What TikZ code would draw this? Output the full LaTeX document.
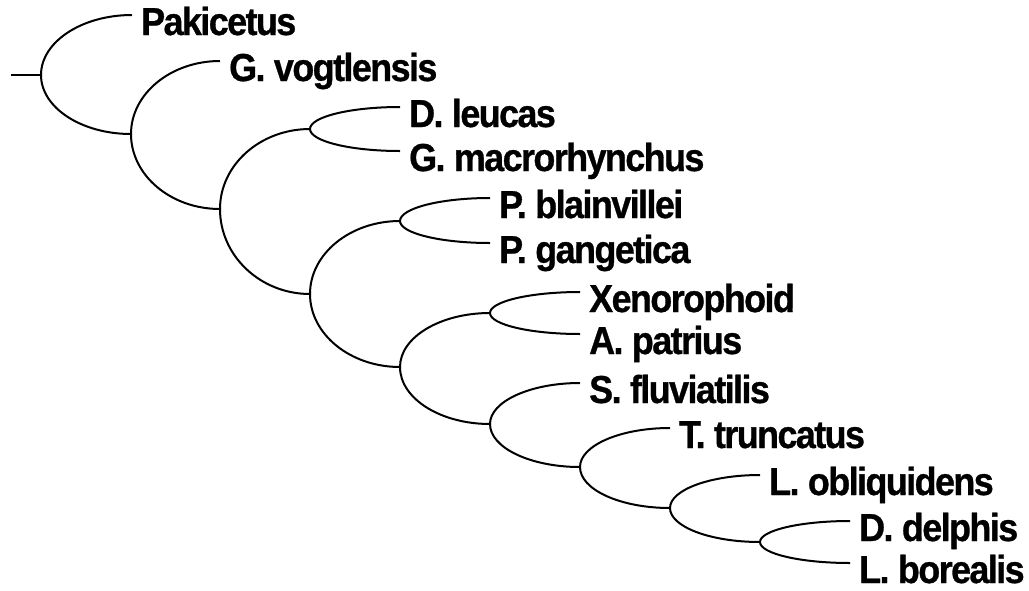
\documentclass[tikz,border=0pt]{standalone}
\usepackage{fontspec}
\setmainfont{Liberation Sans}[FakeStretch=0.92, LetterSpace=-4, BoldFeatures={FakeBold=0.8}]
\usetikzlibrary{calc}
\tikzset{
  branch/.style={to path={.. controls ($(\tikztostart)!0.552!(\tikztostart|-\tikztotarget)$) and ($(\tikztotarget)!0.552!(\tikztostart|-\tikztotarget)$) .. (\tikztotarget)}},
  tree/.style={line width=2pt, black},
  taxon/.style={anchor=base west, inner sep=0pt, font=\fontsize{39}{42}\selectfont\bfseries}
}
\begin{document}
\begin{tikzpicture}[x=1pt,y=-1pt]
\useasboundingbox (0,0) rectangle (1029,590);
% internal nodes
\coordinate (r0) at (11,75);
\coordinate (n1) at (41,75);
\coordinate (n2) at (131,134);
\coordinate (n3) at (220,209);
\coordinate (n4) at (310,129);
\coordinate (n5) at (310,294);
\coordinate (n6) at (400,221);
\coordinate (n7) at (400,367);
\coordinate (n8) at (490,313);
\coordinate (n9) at (490,424);
\coordinate (n10) at (580,467);
\coordinate (n11) at (670,508);
\coordinate (n12) at (760,542);
% leaf ends
\coordinate (pak) at (132,15);
\coordinate (vog) at (220,61);
\coordinate (leu) at (400,107);
\coordinate (mac) at (400,151);
\coordinate (bla) at (490,198);
\coordinate (gan) at (490,243);
\coordinate (xen) at (580,292);
\coordinate (pat) at (580,334);
\coordinate (flu) at (580,383);
\coordinate (tru) at (670,428);
\coordinate (obl) at (760,475);
\coordinate (del) at (850,521);
\coordinate (bor) at (850,563);
% labels
\foreach \c/\t in {pak/Pakicetus, vog/G. vogtlensis, leu/D. leucas, mac/G. macrorhynchus,
  bla/P. blainvillei, gan/P. gangetica, xen/Xenorophoid, pat/A. patrius, flu/S. fluviatilis,
  tru/T. truncatus, obl/L. obliquidens, del/D. delphis, bor/L. borealis}
  \node[taxon] (t-\c) at ($(\c)+(9,20)$) {\t};
% branches
\draw[tree] (r0) -- (n1);
\foreach \p/\a/\b in {n1/pak/n2, n2/vog/n3, n3/n4/n5, n4/leu/mac, n5/n6/n7, n6/bla/gan,
  n7/n8/n9, n8/xen/pat, n9/flu/n10, n10/tru/n11, n11/obl/n12, n12/del/bor}
{
  \draw[tree] (\p) to[branch] (\a);
  \draw[tree] (\p) to[branch] (\b);
}
\end{tikzpicture}
\end{document}
